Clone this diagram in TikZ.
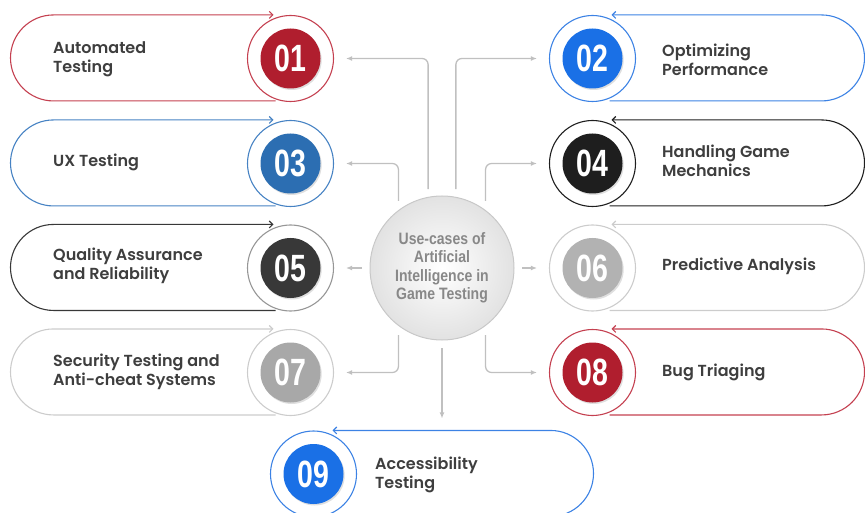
\documentclass[tikz,border=0pt]{standalone}
\usepackage{fontspec}
\newfontfamily\labelfont{Poppins}[BoldFont={Poppins SemiBold}]
\newfontfamily\numfont{Liberation Sans}[FakeStretch=0.75]
\newfontfamily\hubfont{Liberation Sans}[FakeStretch=0.85]
\usetikzlibrary{arrows.meta,positioning,calc,shadows}
\definecolor{crimson}{RGB}{176,30,46}
\definecolor{crimsonline}{RGB}{196,64,80}
\definecolor{azure}{RGB}{26,112,230}
\definecolor{azureline}{RGB}{60,130,228}
\definecolor{steel}{RGB}{44,110,178}
\definecolor{steelline}{RGB}{70,130,195}
\definecolor{ink}{RGB}{30,30,30}
\definecolor{charcoal}{RGB}{56,56,56}
\definecolor{charcoalline}{RGB}{150,150,150}
\definecolor{silver}{RGB}{178,178,178}
\definecolor{silverline}{RGB}{204,204,204}
\definecolor{ash}{RGB}{168,168,168}
\definecolor{labelgray}{RGB}{62,62,62}
\definecolor{conngray}{RGB}{192,192,192}
\definecolor{hubline}{RGB}{200,200,200}
\definecolor{hubfill}{RGB}{226,226,226}
\definecolor{hubtext}{RGB}{136,136,136}

\begin{document}
\begin{tikzpicture}[
    x=1pt, y=1pt,
    ring/.style={circle, draw, line width=1.1pt, minimum size=86pt, inner sep=0pt},
    disk/.style={circle, minimum size=60pt, inner sep=0pt, text=white, font=\numfont\bfseries\fontsize{38}{38}\selectfont,
        drop shadow={shadow xshift=1.2pt, shadow yshift=-1.5pt, opacity=0.25}},
    pill/.style={line width=1.1pt, {Straight Barb[length=3.5pt,width=7pt]}-},
    label/.style={anchor=west, align=left, inner sep=0pt, text=labelgray, font=\labelfont\bfseries\fontsize{16}{19}\selectfont},
    conn/.style={draw=conngray, line width=1.3pt, rounded corners=6pt, -{Latex[length=6pt,width=5pt]}, shorten >=12pt}
]
\useasboundingbox (0,0) rectangle (865,-513);

% hub
\node[circle, minimum size=144pt, outer sep=8pt, draw=hubline, line width=1pt, inner color=white, outer color=hubfill,
      text=hubtext, font=\hubfont\bfseries\fontsize{16.5}{18.5}\selectfont, align=center] (hub) at (442,-268)
      {Use-cases of\\Artificial\\Intelligence in\\Game Testing};

% left column
\node[ring, draw=crimsonline] (n01) at (290.5,-58.5) {};
\node[disk, fill=crimson] (d01) at (n01) {01};
\node[ring, draw=steelline] (n03) at (290.5,-163.5) {};
\node[disk, fill=steel] (d03) at (n03) {03};
\node[ring, draw=charcoalline] (n05) at (290.5,-268) {};
\node[disk, fill=charcoal] (d05) at (n05) {05};
\node[ring, draw=silverline] (n07) at (290.5,-372.5) {};
\node[disk, fill=ash] (d07) at (n07) {07};

% right column
\node[ring, draw=azureline] (n02) at (592.5,-58.5) {};
\node[disk, fill=azure] (d02) at (n02) {02};
\node[ring, draw=ink] (n04) at (592.5,-163.5) {};
\node[disk, fill=ink] (d04) at (n04) {04};
\node[ring, draw=silverline] (n06) at (592.5,-268) {};
\node[disk, fill=silver] (d06) at (n06) {06};
\node[ring, draw=crimsonline] (n08) at (592.5,-372.5) {};
\node[disk, fill=crimson] (d08) at (n08) {08};

% bottom
\node[ring, draw=azureline] (n09) at (313.5,-474) {};
\node[disk, fill=azure] (d09) at (n09) {09};

% pills
\draw[pill, draw=crimsonline] ([xshift=-17pt]n01.north) -- ++(-220,0) arc[start angle=90, end angle=270, radius=43] -- ++(222,0);
\draw[pill, draw=steelline] ([xshift=-17pt]n03.north) -- ++(-220,0) arc[start angle=90, end angle=270, radius=43] -- ++(222,0);
\draw[pill, draw=charcoal] ([xshift=-17pt]n05.north) -- ++(-220,0) arc[start angle=90, end angle=270, radius=43] -- ++(222,0);
\draw[pill, draw=silverline] ([xshift=-17pt]n07.north) -- ++(-220,0) arc[start angle=90, end angle=270, radius=43] -- ++(222,0);
\draw[pill, draw=azureline] ([xshift=19pt]n02.north) -- ++(210,0) arc[start angle=90, end angle=-90, radius=43] -- ++(-212,0);
\draw[pill, draw=ink] ([xshift=19pt]n04.north) -- ++(210,0) arc[start angle=90, end angle=-90, radius=43] -- ++(-212,0);
\draw[pill, draw=silverline] ([xshift=19pt]n06.north) -- ++(210,0) arc[start angle=90, end angle=-90, radius=43] -- ++(-212,0);
\draw[pill, draw=crimsonline] ([xshift=19pt]n08.north) -- ++(210,0) arc[start angle=90, end angle=-90, radius=43] -- ++(-212,0);
\draw[pill, draw=azureline] ([xshift=19pt]n09.north) -- ++(218,0) arc[start angle=90, end angle=-90, radius=43] -- ++(-220,0);

% labels
\node[label] (t01) at (53,-59.5) {Automated\\Testing};
\node[label] (t03) at (53,-162.5) {UX Testing};
\node[label] (t05) at (53,-265.5) {Quality Assurance\\and Reliability};
\node[label] (t07) at (53,-371.5) {Security Testing and\\Anti-cheat Systems};
\node[label] (t02) at (662,-59.5) {Optimizing\\Performance};
\node[label] (t04) at (662,-161) {Handling Game\\Mechanics};
\node[label] (t06) at (662,-266) {Predictive Analysis};
\node[label] (t08) at (662,-372) {Bug Triaging};
\node[label] (t09) at (375,-475) {Accessibility\\Testing};

% connectors
\draw[conn] (hub.100) |- (n01);
\draw[conn] (hub.80) |- (n02);
\draw[conn] (hub.123) |- (n03);
\draw[conn] (hub.57) |- (n04);
\draw[conn] (hub.west) -- (n05);
\draw[conn] (hub.east) -- (n06);
\draw[conn] (hub.-123) |- (n07);
\draw[conn] (hub.-57) |- (n08);
\draw[conn] (hub.south) -- (hub.south |- n09.north);
\end{tikzpicture}
\end{document}
